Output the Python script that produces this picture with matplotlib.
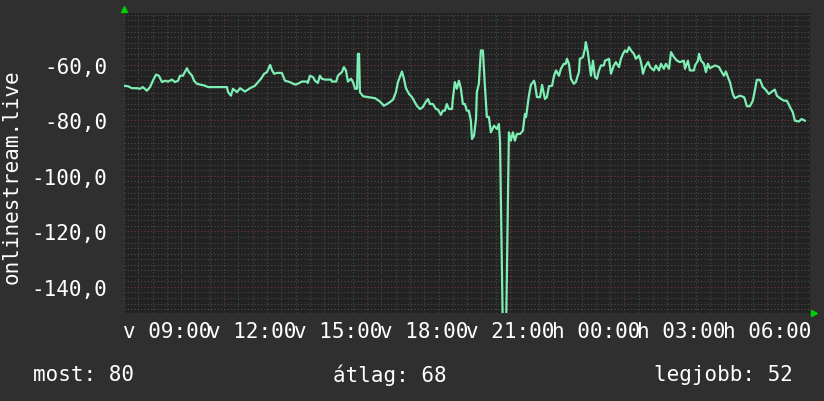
# onlinestream.live signal graph (rrdtool style, dark theme)
import matplotlib
matplotlib.use("Agg")
import matplotlib.pyplot as plt
from matplotlib.ticker import MultipleLocator

# hours since midnight of day 1 (values > 24 belong to the next day)
hours = [7.50, 7.64, 7.78, 7.95, 8.06, 8.16, 8.30, 8.41, 8.51, 8.62, 8.72, 8.83,
         8.93, 9.04, 9.18, 9.28, 9.39, 9.46, 9.56, 9.70, 9.77, 9.88, 9.95, 10.05,
         10.33, 10.44, 11.10, 11.14, 11.24, 11.31, 11.45, 11.56, 11.73, 11.91,
         12.08, 12.19, 12.29, 12.40, 12.50, 12.61, 12.68, 12.75, 12.85, 13.02,
         13.13, 13.30, 13.48, 13.58, 13.72, 13.90, 13.93, 14.00, 14.11, 14.18,
         14.28, 14.35, 14.42, 14.53, 14.74, 14.77, 14.92, 14.98, 15.12, 15.19,
         15.26, 15.33, 15.44, 15.51, 15.58, 15.65, 15.68, 15.72, 15.75, 15.86,
         16.03, 16.28, 16.45, 16.59, 16.70, 16.80, 16.91, 17.01, 17.08, 17.22,
         17.29, 17.36, 17.47, 17.57, 17.64, 17.74, 17.85, 17.95, 18.06, 18.13,
         18.20, 18.30, 18.41, 18.48, 18.58, 18.65, 18.72, 18.79, 18.86, 18.97,
         19.00, 19.07, 19.14, 19.21, 19.28, 19.35, 19.42, 19.49, 19.56, 19.63,
         19.67, 19.74, 19.81, 19.84, 19.91, 19.98, 20.05, 20.12, 20.19, 20.26,
         20.33, 20.44, 20.54, 20.61, 20.65, 20.74, 20.87, 20.96, 21.03, 21.10,
         21.17, 21.24, 21.35, 21.45, 21.52, 21.56, 21.66, 21.73, 21.84, 21.87,
         21.94, 22.05, 22.12, 22.22, 22.29, 22.36, 22.47, 22.54, 22.61, 22.71,
         22.78, 22.88, 22.95, 22.99, 23.06, 23.13, 23.23, 23.30, 23.41, 23.44,
         23.55, 23.62, 23.65, 23.72, 23.76, 23.83, 23.90, 23.97, 24.04, 24.11,
         24.18, 24.28, 24.32, 24.46, 24.53, 24.63, 24.70, 24.81, 24.88, 24.95,
         25.02, 25.09, 25.16, 25.23, 25.33, 25.40, 25.51, 25.58, 25.65, 25.72,
         25.83, 25.90, 26.03, 26.10, 26.21, 26.28, 26.38, 26.45, 26.56, 26.63,
         26.73, 26.84, 26.94, 27.08, 27.12, 27.22, 27.29, 27.43, 27.47, 27.57,
         27.61, 27.68, 27.78, 27.85, 27.92, 27.99, 28.06, 28.17, 28.31, 28.37,
         28.48, 28.55, 28.62, 28.69, 28.79, 28.86, 28.93, 29.04, 29.18, 29.21,
         29.28, 29.39, 29.49, 29.56, 29.63, 29.74, 29.84, 29.91, 30.05, 30.16,
         30.26, 30.33, 30.44, 30.58, 30.68, 30.79, 30.89, 30.96, 31.10, 31.20,
         31.31]

signal = [-67.5, -67.7, -68.4, -68.4, -68.6, -68.0, -69.3, -68.0, -65.7, -63.5, -63.9, -66.2,
          -65.7, -66.0, -65.3, -66.2, -65.7, -63.9, -63.9, -61.2, -62.6, -63.9, -65.7, -66.8,
          -67.5, -68.0, -68.0, -69.8, -71.1, -68.6, -69.8, -68.4, -69.6, -68.4,
          -67.5, -66.2, -65.0, -63.2, -62.6, -60.0, -62.0, -63.2, -62.9, -62.9,
          -65.7, -66.2, -67.1, -66.8, -66.0, -66.0, -66.5, -63.9, -64.4, -65.7,
          -66.5, -63.9, -65.0, -65.3, -65.3, -66.0, -66.0, -63.9, -62.6, -60.8,
          -62.0, -66.0, -65.0, -66.2, -68.6, -68.6, -56.0, -56.0, -69.8, -71.3,
          -71.6, -72.0, -73.2, -74.7, -74.1, -73.4, -72.5, -69.8, -66.2, -62.4,
          -65.0, -68.4, -70.5, -71.6, -72.9, -74.7, -75.9, -75.2, -73.2, -72.3,
          -74.1, -74.1, -75.9, -76.1, -78.0, -76.5, -76.5, -74.1, -75.9, -75.9,
          -72.3, -66.2, -68.6, -65.7, -68.4, -74.1, -74.1, -76.5, -76.5, -80.1,
          -86.7, -85.5, -79.5, -69.8, -66.8, -54.8, -54.8, -67.5, -78.8, -78.8,
          -84.3, -81.9, -83.1, -81.3, -87.9, -150.0, -150.0, -84.3, -87.3, -84.3,
          -87.3, -84.9, -84.9, -83.7, -77.7, -78.8, -71.1, -67.2, -65.7, -66.8,
          -71.6, -71.6, -67.2, -72.3, -71.6, -67.7, -67.5, -63.9, -62.0, -63.9,
          -61.4, -59.6, -59.6, -57.8, -59.6, -65.0, -66.8, -66.2, -62.6, -57.8,
          -57.2, -54.2, -51.8, -55.4, -58.5, -63.9, -58.5, -64.4, -65.0, -62.0,
          -60.2, -60.2, -58.5, -57.8, -63.2, -60.2, -59.0, -60.8, -57.8, -56.0,
          -54.8, -55.4, -53.6, -54.8, -56.0, -57.8, -56.6, -59.0, -63.2, -60.8,
          -59.0, -60.8, -62.0, -60.2, -62.0, -59.6, -61.4, -59.6, -61.4, -55.4,
          -57.2, -58.5, -59.0, -58.5, -61.4, -58.5, -62.0, -62.0, -60.2, -58.5,
          -56.0, -58.5, -59.6, -62.6, -59.6, -61.2, -60.8, -60.2, -60.8, -62.0,
          -63.9, -62.4, -64.4, -66.2, -70.5, -72.0, -71.6, -71.1, -71.6, -72.3,
          -74.9, -74.9, -72.9, -69.3, -65.4, -65.4, -68.0, -68.6, -70.5, -69.6,
          -68.9, -71.1, -72.0, -72.9, -72.9, -75.2, -77.1, -80.1, -80.4, -79.5,
          -80.1]

tick_hours = [9, 12, 15, 18, 21, 24, 27, 30]
tick_labels = ["v 09:00", "v 12:00", "v 15:00", "v 18:00", "v 21:00",
               "h 00:00", "h 03:00", "h 06:00"]
y_ticks = [-60, -80, -100, -120, -140]
y_labels = ["-60,0", "-80,0", "-100,0", "-120,0", "-140,0"]

legend_texts = ["most: 80", "átlag: 68", "legjobb: 52"]

plt.rcParams["font.family"] = ["DejaVu Sans Mono"]
fs = 15

fig = plt.figure(figsize=(8.24, 4.02), dpi=100, facecolor="#2f2f2f")
ax = fig.add_axes([124 / 824, 88 / 402, 686 / 824, 300 / 402], facecolor="#222222")

ax.plot(hours, signal, color="#7deeb4", lw=1.6, zorder=3)

ax.set_xlim(7.5, 31.49)
ax.set_ylim(-149.4, -41.3)

# hourly red lines, half-hour gray lines; labels every 3 hours
hour_ticks = list(range(8, 32))
hour_labels = [tick_labels[tick_hours.index(h)] if h in tick_hours else "" for h in hour_ticks]
ax.set_xticks(hour_ticks)
ax.set_xticklabels(hour_labels)
ax.xaxis.set_minor_locator(MultipleLocator(0.5))
ax.set_yticks(y_ticks)
ax.set_yticklabels(y_labels)
ax.yaxis.set_minor_locator(MultipleLocator(2))

ax.grid(which="minor", color="#4c4c4c", ls=(0, (1, 2)), lw=0.8)
ax.grid(which="major", color="#723838", ls=(0, (1, 2)), lw=0.8)
ax.set_axisbelow(True)

ax.tick_params(which="both", length=0, colors="white", labelsize=fs)
ax.tick_params(axis="x", pad=6)
ax.tick_params(axis="y", pad=12)

for s in ax.spines.values():
    s.set_visible(False)

# green axis arrows
ax.plot([0], [1.015], marker="^", color="#00d000", ms=4, transform=ax.transAxes, clip_on=False)
ax.plot([1.006], [0], marker=">", color="#00d000", ms=4, transform=ax.transAxes, clip_on=False)

fig.text(12 / 824, 1 - 177 / 402, "onlinestream.live", rotation=90, color="white",
         fontsize=fs, ha="center", va="center")

fig.text(33 / 824, 1 - 375 / 402, legend_texts[0], color="white", fontsize=fs, va="center")
fig.text(333 / 824, 1 - 375 / 402, legend_texts[1], color="white", fontsize=fs, va="center")
fig.text(793 / 824, 1 - 375 / 402, legend_texts[2], color="white", fontsize=fs, va="center", ha="right")

fig.savefig("out.png", dpi=100, facecolor=fig.get_facecolor())
